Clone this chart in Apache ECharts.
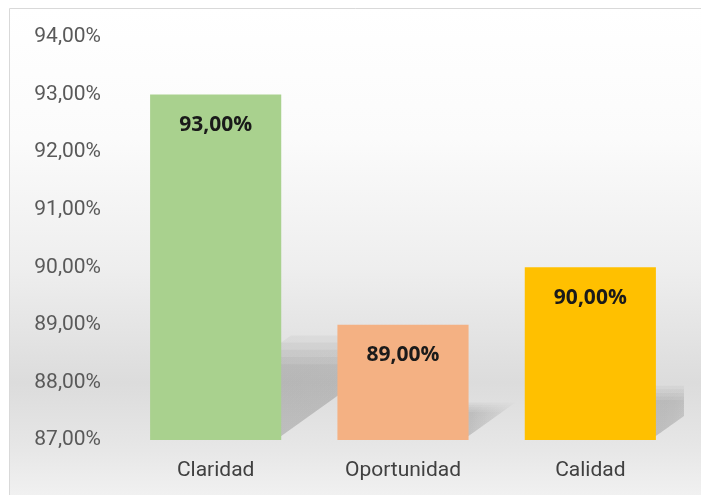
<!DOCTYPE html>
<html>
<head>
<meta charset="utf-8">
<style>html,body{margin:0;padding:0;background:#fff;}#c{width:701px;height:495px;}</style>
<script src="https://cdn.jsdelivr.net/npm/echarts@6/dist/echarts.min.js"></script>
</head>
<body>
<div id="c"></div>
<script>
const categories = ['Claridad', 'Oportunidad', 'Calidad'];
const values = [93, 89, 90];
const barColors = ['#A9D18E', '#F4B183', '#FFC000'];
const yMin = 87, yMax = 94, yStep = 1;

const fmt = v => v.toFixed(2).replace('.', ',') + '%';
const chart = echarts.init(document.getElementById('c'));
chart.setOption({
  animation: false,
  backgroundColor: '#ffffff',
  graphic: [{
    type: 'rect', z: -10, silent: true,
    shape: { x: 9.5, y: 8.5, width: 720, height: 520 },
    style: {
      stroke: '#d9d9d9', lineWidth: 1,
      fill: new echarts.graphic.LinearGradient(0, 0, 0, 1, [
        { offset: 0, color: '#ffffff' },
        { offset: 0.25, color: '#fbfbfb' },
        { offset: 0.5, color: '#eeeeee' },
        { offset: 0.72, color: '#dcdcdc' },
        { offset: 0.84, color: '#e6e6e6' },
        { offset: 1, color: '#f8f8f8' }
      ])
    }
  }],
  grid: { left: 122, right: 17, top: 37, bottom: 55 },
  xAxis: {
    type: 'category', data: categories,
    axisLine: { show: false }, axisTick: { show: false },
    axisLabel: { margin: 20, color: '#404040', fontFamily: 'Roboto', fontSize: 21 }
  },
  yAxis: {
    type: 'value', min: yMin, max: yMax, interval: yStep,
    splitLine: { show: false }, axisLine: { show: false }, axisTick: { show: false },
    axisLabel: { margin: 21, color: '#595959', fontFamily: 'Roboto', fontSize: 21, formatter: fmt }
  },
  series: [{
    type: 'custom', z: 1, clip: true, silent: true,
    encode: { x: 0, y: 1 },
    data: values.map((v, i) => [i, v]),
    renderItem: (params, api) => {
      const xi = api.value(0), v = api.value(1);
      const top = api.coord([xi, v]);
      const bot = api.coord([xi, yMin]);
      const bw = api.size([1, 0])[0] * 0.7;
      const left = bot[0] - bw / 2, right = bot[0] + bw / 2;
      const H = (bot[1] - top[1]) * 0.26;
      const b = bot[1] - 4;
      const children = [];
      for (let k = 0; k < 5; k++) {
        const h = H * (0.8 + 0.08 * k);
        const dx = h * 1.4;
        children.push({
          type: 'polygon',
          shape: { points: [[left, b], [right, b], [right + dx, b - h], [left + dx, b - h]] },
          style: {
            fill: new echarts.graphic.LinearGradient(0, 0, 1, 1, [
              { offset: 0, color: 'rgba(0,0,0,0.005)' },
              { offset: 0.3, color: 'rgba(0,0,0,0.038)' },
              { offset: 0.75, color: 'rgba(0,0,0,0.034)' },
              { offset: 1, color: 'rgba(0,0,0,0.006)' }
            ])
          }
        });
      }
      return { type: 'group', children };
    }
  }, {
    type: 'bar', barWidth: '70%', z: 2,
    data: values.map((v, i) => ({ value: v, itemStyle: { color: barColors[i] } })),
    label: {
      show: true, position: 'insideTop', distance: 20,
      color: '#1a1a1a', fontFamily: 'Open Sans', fontWeight: 'bold', fontSize: 21,
      formatter: p => fmt(p.value)
    }
  }]
});
</script>
</body>
</html>
